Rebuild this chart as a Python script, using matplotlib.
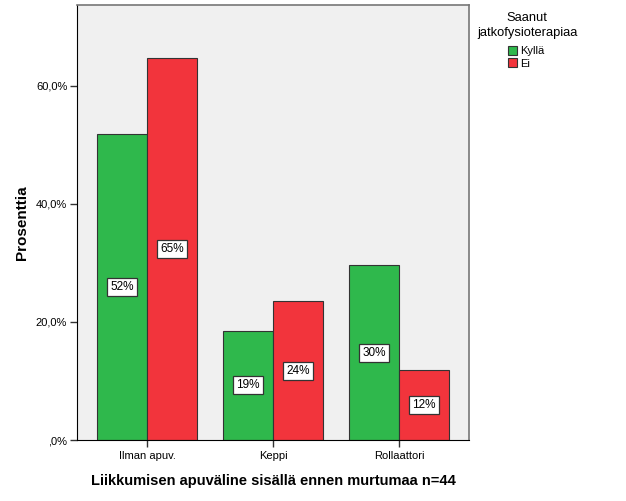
import matplotlib
matplotlib.use("Agg")
import matplotlib.pyplot as plt
import numpy as np

plt.rcParams['font.family'] = ['Liberation Sans', 'DejaVu Sans']

categories = ["Ilman apuv.", "Keppi", "Rollaattori"]
kylla = [51.9, 18.5, 29.6]
ei = [64.7, 23.5, 11.8]
kylla_labels = ["52%", "19%", "30%"]
ei_labels = ["65%", "24%", "12%"]
yticks = [0, 20, 40, 60]
ytick_labels = [",0%", "20,0%", "40,0%", "60,0%"]

green = '#2fb84c'
red = '#f2343c'

fig = plt.figure(figsize=(6.26, 5.01), dpi=100)
ax = fig.add_axes([77/626, 61/501, (469-77)/626, (440-5)/501])
ax.set_facecolor('#f0f0f0')

x = np.arange(len(categories))
w = 0.397
ax.bar(x - w/2, kylla, width=w, color=green, edgecolor='#333333', linewidth=0.8, zorder=2)
ax.bar(x + w/2, ei, width=w, color=red, edgecolor='#333333', linewidth=0.8, zorder=2)

bbox = dict(boxstyle='square,pad=0.25', facecolor='white', edgecolor='#333333', linewidth=0.9)
for i in range(len(categories)):
    ax.text(x[i] - w/2, kylla[i]/2, kylla_labels[i], ha='center', va='center', fontsize=8.5, bbox=bbox, zorder=3)
    ax.text(x[i] + w/2, ei[i]/2, ei_labels[i], ha='center', va='center', fontsize=8.5, bbox=bbox, zorder=3)

ax.set_xlim(-0.555, 2.555)
ax.set_ylim(0, 73.7)
ax.set_yticks(yticks)
ax.set_yticklabels(ytick_labels, fontsize=8)
ax.set_xticks(x)
ax.set_xticklabels(categories, fontsize=8)
ax.tick_params(axis='both', length=5, width=1, color='#333333', pad=2)
ax.tick_params(axis='x', pad=3)

for s in ['top', 'right']:
    ax.spines[s].set_color('#777777')
    ax.spines[s].set_linewidth(1.2)
ax.spines['left'].set_color('black')
ax.spines['bottom'].set_color('black')

ax.set_ylabel("Prosenttia", fontsize=11, fontweight='bold', labelpad=5)
ax.set_xlabel("Liikkumisen apuväline sisällä ennen murtumaa n=44", fontsize=10.5, fontweight='bold', labelpad=9)

# Legend
fig.text(527/626, 1 - 18/501, "Saanut", ha='center', va='center', fontsize=9.3)
fig.text(527/626, 1 - 33/501, "jatkofysioterapiaa", ha='center', va='center', fontsize=9.3)
leg_h = [plt.Rectangle((0, 0), 1, 1, facecolor=green, edgecolor='#333333', linewidth=0.8),
         plt.Rectangle((0, 0), 1, 1, facecolor=red, edgecolor='#333333', linewidth=0.8)]
fig.legend(leg_h, ["Kyllä", "Ei"], loc='upper left', bbox_to_anchor=(508/626, 1 - 46/501),
           frameon=False, fontsize=8, handlelength=0.85, handleheight=0.85, handletextpad=0.2,
           labelspacing=0.2, borderpad=0, borderaxespad=0)

fig.savefig("out.png", dpi=100)
